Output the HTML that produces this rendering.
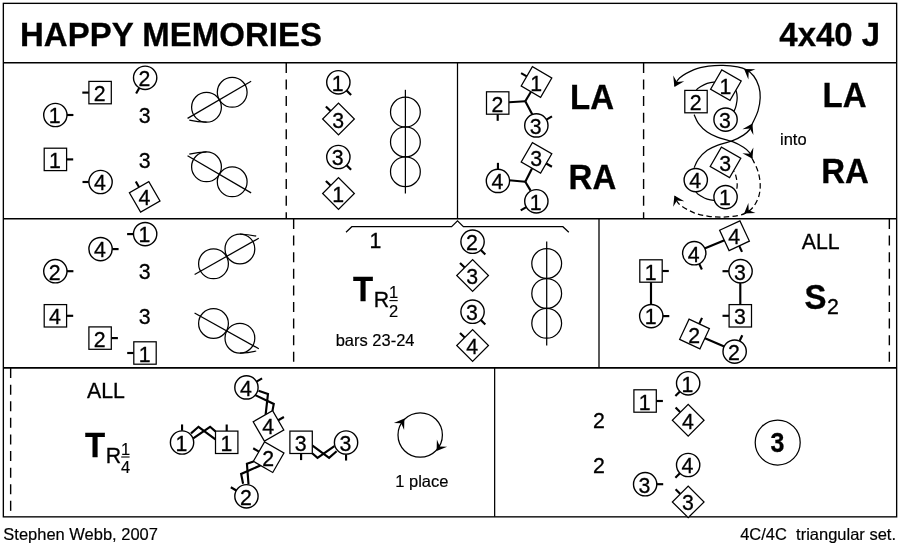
<!DOCTYPE html>
<html><head><meta charset="utf-8"><title>Happy Memories</title>
<style>html,body{margin:0;padding:0;background:#fff}svg{display:block;will-change:transform}</style></head>
<body><svg width="900" height="550" viewBox="0 0 900 550" font-family="Liberation Sans, sans-serif" fill="#000" stroke="#000" stroke-linecap="butt">
<rect x="0" y="0" width="900" height="550" fill="#fff" stroke="none"/>
<g>
<rect x="3.35" y="3.35" width="893.3" height="513.5" fill="none" stroke-width="1.35"/>
<line x1="3.35" y1="62.70" x2="896.65" y2="62.70" stroke-width="1.55" />
<line x1="3.35" y1="218.80" x2="896.65" y2="218.80" stroke-width="1.55" />
<line x1="3.35" y1="367.85" x2="896.65" y2="367.85" stroke-width="1.55" />
<line x1="457.50" y1="62.70" x2="457.50" y2="218.80" stroke-width="1.25" />
<line x1="599.00" y1="218.80" x2="599.00" y2="367.85" stroke-width="1.3" />
<line x1="494.65" y1="367.85" x2="494.65" y2="516.85" stroke-width="1.25" />
<line x1="286.25" y1="62.90" x2="286.25" y2="218.8" stroke-width="1.4" stroke-dasharray="10 6.6"/>
<line x1="643.6" y1="62.90" x2="643.6" y2="218.8" stroke-width="1.4" stroke-dasharray="10 6.6"/>
<line x1="293.65" y1="219.00" x2="293.65" y2="367.85" stroke-width="1.4" stroke-dasharray="10 6.6"/>
<line x1="889.35" y1="219.00" x2="889.35" y2="367.85" stroke-width="1.4" stroke-dasharray="10 6.6"/>
<line x1="10.65" y1="368.05" x2="10.65" y2="516.85" stroke-width="1.4" stroke-dasharray="10 6.6"/>
<text stroke="#000" transform="translate(20.00 46.10) scale(1 1.035)" font-size="33" stroke-width="0.3" text-anchor="start" font-weight="bold" >HAPPY MEMORIES</text>
<text stroke="#000" transform="translate(880.20 46.00) scale(1 1.035)" font-size="33" stroke-width="0.3" text-anchor="end" font-weight="bold" >4x40 J</text>
<text stroke="#000" transform="translate(3.30 540.00) scale(1 1.05)" font-size="16.5" stroke-width="0.18" text-anchor="start" >Stephen Webb, 2007</text>
<text stroke="#000" transform="translate(896.00 540.00) scale(1 1.05)" font-size="16.5" stroke-width="0.18" text-anchor="end" >4C/4C&#160; triangular set.</text>
<line x1="67.00" y1="115.00" x2="73.40" y2="115.00" stroke-width="2.15" />
<circle cx="55.35" cy="115.00" r="11.65" fill="#fff" stroke-width="1.4"/>
<text stroke="#000" transform="translate(54.70 123.35) scale(1 1.05)" font-size="21.3" stroke-width="0.3" text-anchor="middle" >1</text>
<line x1="88.90" y1="92.60" x2="82.30" y2="92.60" stroke-width="2.15" />
<rect x="88.90" y="81.40" width="22.4" height="22.4" fill="#fff" stroke-width="1.25" transform="rotate(0 100.10 92.60)"/>
<text stroke="#000" transform="translate(99.70 101.10) scale(1 1.05)" font-size="21.3" stroke-width="0.3" text-anchor="middle" >2</text>
<line x1="139.33" y1="87.89" x2="136.12" y2="93.43" stroke-width="2.15" />
<circle cx="145.15" cy="77.80" r="11.65" fill="#fff" stroke-width="1.4"/>
<text stroke="#000" transform="translate(144.50 86.15) scale(1 1.05)" font-size="21.3" stroke-width="0.3" text-anchor="middle" >2</text>
<text stroke="#000" transform="translate(144.60 122.70) scale(1 1.05)" font-size="21.3" stroke-width="0.3" text-anchor="middle" >3</text>
<line x1="66.60" y1="159.40" x2="73.20" y2="159.40" stroke-width="2.15" />
<rect x="44.20" y="148.20" width="22.4" height="22.4" fill="#fff" stroke-width="1.25" transform="rotate(0 55.40 159.40)"/>
<text stroke="#000" transform="translate(55.00 167.90) scale(1 1.05)" font-size="21.3" stroke-width="0.3" text-anchor="middle" >1</text>
<line x1="88.90" y1="182.00" x2="82.50" y2="182.00" stroke-width="2.15" />
<circle cx="100.55" cy="182.00" r="11.65" fill="#fff" stroke-width="1.4"/>
<text stroke="#000" transform="translate(99.90 190.35) scale(1 1.05)" font-size="21.3" stroke-width="0.3" text-anchor="middle" >4</text>
<text stroke="#000" transform="translate(144.60 167.60) scale(1 1.05)" font-size="21.3" stroke-width="0.3" text-anchor="middle" >3</text>
<line x1="139.10" y1="187.20" x2="135.80" y2="181.48" stroke-width="2.15" />
<rect x="133.50" y="185.70" width="22.4" height="22.4" fill="#fff" stroke-width="1.25" transform="rotate(60 144.70 196.90)"/>
<text stroke="#000" transform="translate(144.30 205.40) scale(1 1.05)" font-size="21.3" stroke-width="0.3" text-anchor="middle" >4</text>
<circle cx="206.50" cy="107.30" r="14.9" fill="none" stroke-width="1.25"/>
<circle cx="232.20" cy="92.30" r="14.9" fill="none" stroke-width="1.25"/>
<line x1="187.57" y1="118.35" x2="251.13" y2="81.25" stroke-width="1.25" />
<path d="M206.5,122.2 Q198,122 189.3,120.2" fill="none" stroke-width="1.25" />
<circle cx="206.50" cy="166.80" r="14.9" fill="none" stroke-width="1.25"/>
<circle cx="232.20" cy="181.80" r="14.9" fill="none" stroke-width="1.25"/>
<line x1="187.57" y1="155.75" x2="251.13" y2="192.85" stroke-width="1.25" />
<path d="M206.5,151.9 Q198,152.1 189.3,154.2" fill="none" stroke-width="1.25" />
<line x1="346.59" y1="90.54" x2="351.11" y2="95.06" stroke-width="2.15" />
<circle cx="338.35" cy="82.30" r="11.65" fill="#fff" stroke-width="1.4"/>
<text stroke="#000" transform="translate(337.70 90.65) scale(1 1.05)" font-size="21.3" stroke-width="0.3" text-anchor="middle" >1</text>
<line x1="330.58" y1="111.08" x2="325.91" y2="106.41" stroke-width="2.15" />
<rect x="327.30" y="107.80" width="22.4" height="22.4" fill="#fff" stroke-width="1.25" transform="rotate(45 338.50 119.00)"/>
<text stroke="#000" transform="translate(338.10 127.50) scale(1 1.05)" font-size="21.3" stroke-width="0.3" text-anchor="middle" >3</text>
<line x1="346.59" y1="165.24" x2="351.11" y2="169.76" stroke-width="2.15" />
<circle cx="338.35" cy="157.00" r="11.65" fill="#fff" stroke-width="1.4"/>
<text stroke="#000" transform="translate(337.70 165.35) scale(1 1.05)" font-size="21.3" stroke-width="0.3" text-anchor="middle" >3</text>
<line x1="330.58" y1="185.58" x2="325.91" y2="180.91" stroke-width="2.15" />
<rect x="327.30" y="182.30" width="22.4" height="22.4" fill="#fff" stroke-width="1.25" transform="rotate(45 338.50 193.50)"/>
<text stroke="#000" transform="translate(338.10 202.00) scale(1 1.05)" font-size="21.3" stroke-width="0.3" text-anchor="middle" >1</text>
<circle cx="405.40" cy="112.10" r="14.9" fill="none" stroke-width="1.25"/>
<circle cx="405.40" cy="141.90" r="14.9" fill="none" stroke-width="1.25"/>
<circle cx="405.40" cy="171.70" r="14.9" fill="none" stroke-width="1.25"/>
<line x1="405.40" y1="89.80" x2="405.40" y2="193.50" stroke-width="1.25" />
<line x1="509.00" y1="102.20" x2="525.30" y2="101.20" stroke-width="2.15" />
<line x1="525.30" y1="101.20" x2="531.00" y2="91.80" stroke-width="2.15" />
<line x1="525.30" y1="101.20" x2="532.20" y2="114.20" stroke-width="2.15" />
<line x1="497.70" y1="114.20" x2="497.70" y2="120.80" stroke-width="2.15" />
<rect x="486.50" y="91.80" width="22.4" height="22.4" fill="#fff" stroke-width="1.25" transform="rotate(0 497.70 103.00)"/>
<text stroke="#000" transform="translate(497.30 111.50) scale(1 1.05)" font-size="21.3" stroke-width="0.3" text-anchor="middle" >2</text>
<line x1="526.80" y1="76.40" x2="521.08" y2="73.10" stroke-width="2.15" />
<rect x="525.30" y="70.80" width="22.4" height="22.4" fill="#fff" stroke-width="1.25" transform="rotate(30 536.50 82.00)"/>
<text stroke="#000" transform="translate(536.10 90.50) scale(1 1.05)" font-size="21.3" stroke-width="0.3" text-anchor="middle" >1</text>
<line x1="546.44" y1="119.58" x2="551.98" y2="116.38" stroke-width="2.15" />
<circle cx="536.35" cy="125.40" r="11.65" fill="#fff" stroke-width="1.4"/>
<text stroke="#000" transform="translate(535.70 133.75) scale(1 1.05)" font-size="21.3" stroke-width="0.3" text-anchor="middle" >3</text>
<text stroke="#000" transform="translate(570.00 109.20) scale(1 1.075)" font-size="33" stroke-width="0.3" text-anchor="start" font-weight="bold" >LA</text>
<line x1="509.00" y1="180.20" x2="525.30" y2="181.80" stroke-width="2.15" />
<line x1="525.30" y1="181.80" x2="532.00" y2="168.60" stroke-width="2.15" />
<line x1="525.30" y1="181.80" x2="530.60" y2="190.60" stroke-width="2.15" />
<line x1="497.95" y1="169.25" x2="497.95" y2="162.85" stroke-width="2.15" />
<circle cx="497.95" cy="180.90" r="11.65" fill="#fff" stroke-width="1.4"/>
<text stroke="#000" transform="translate(497.30 189.25) scale(1 1.05)" font-size="21.3" stroke-width="0.3" text-anchor="middle" >4</text>
<line x1="546.20" y1="163.50" x2="551.92" y2="166.80" stroke-width="2.15" />
<rect x="525.30" y="146.70" width="22.4" height="22.4" fill="#fff" stroke-width="1.25" transform="rotate(30 536.50 157.90)"/>
<text stroke="#000" transform="translate(536.10 166.40) scale(1 1.05)" font-size="21.3" stroke-width="0.3" text-anchor="middle" >3</text>
<line x1="526.26" y1="207.12" x2="520.72" y2="210.32" stroke-width="2.15" />
<circle cx="536.35" cy="201.30" r="11.65" fill="#fff" stroke-width="1.4"/>
<text stroke="#000" transform="translate(535.70 209.65) scale(1 1.05)" font-size="21.3" stroke-width="0.3" text-anchor="middle" >1</text>
<text stroke="#000" transform="translate(568.60 188.80) scale(1 1.075)" font-size="33" stroke-width="0.3" text-anchor="start" font-weight="bold" >RA</text>
<path d="M694.10,167.80 C694.82,166.35 696.22,162.02 698.40,159.10 C700.58,156.18 704.05,152.60 707.20,150.30 C710.35,148.00 713.07,146.90 717.30,145.30 C721.53,143.70 728.23,142.40 732.60,140.70 C736.97,139.00 740.72,136.88 743.50,135.10 C746.28,133.32 747.85,131.85 749.30,130.00 C750.75,128.15 750.75,127.18 752.20,124.00 C753.65,120.82 756.67,115.27 758.00,110.90 C759.33,106.53 760.07,101.92 760.20,97.80 C760.33,93.68 759.88,89.83 758.80,86.20 C757.72,82.57 755.77,78.75 753.70,76.00 C751.63,73.25 749.07,71.23 746.40,69.70 C743.73,68.17 741.58,67.53 737.70,66.80 C733.82,66.07 727.95,65.42 723.10,65.30 C718.25,65.18 713.43,65.38 708.60,66.10 C703.77,66.82 698.95,67.62 694.10,69.60 C689.25,71.58 682.72,75.27 679.50,78.00 C676.28,80.73 675.58,84.67 674.80,86.00" fill="none" stroke-width="1.25" />
<path d="M694.10,114.60 C694.82,116.05 696.22,120.38 698.40,123.30 C700.58,126.22 704.05,129.80 707.20,132.10 C710.35,134.40 713.07,135.50 717.30,137.10 C721.53,138.70 728.23,140.00 732.60,141.70 C736.97,143.40 740.72,145.52 743.50,147.30 C746.28,149.08 747.85,150.55 749.30,152.40 C750.75,154.25 751.72,157.40 752.20,158.40" fill="none" stroke-width="1.25" />
<path d="M752.20,158.40 C753.17,160.58 756.67,167.13 758.00,171.50 C759.33,175.87 760.07,180.48 760.20,184.60 C760.33,188.72 759.88,192.57 758.80,196.20 C757.72,199.83 755.77,203.65 753.70,206.40 C751.63,209.15 749.07,211.17 746.40,212.70 C743.73,214.23 741.58,214.87 737.70,215.60 C733.82,216.33 727.95,216.98 723.10,217.10 C718.25,217.22 713.43,217.02 708.60,216.30 C703.77,215.58 698.95,214.78 694.10,212.80 C689.25,210.82 682.72,207.13 679.50,204.40 C676.28,201.67 675.58,197.73 674.80,196.40" fill="none" stroke-width="1.25" stroke-dasharray="5.5 3.2"/>
<path d="M696.00,98.00 C696.05,96.70 695.42,92.17 696.30,90.20 C697.18,88.23 699.48,87.35 701.30,86.20 C703.12,85.05 705.13,83.98 707.20,83.30 C709.27,82.62 711.23,82.23 713.70,82.10 C716.17,81.97 720.62,82.43 722.00,82.50" fill="none" stroke-width="1.25" />
<path d="M733.00,86.00 C733.53,86.88 735.50,89.33 736.20,91.30 C736.90,93.27 737.20,95.50 737.20,97.80 C737.20,100.10 736.65,103.05 736.20,105.10 C735.75,107.15 735.53,108.28 734.50,110.10 C733.47,111.92 730.75,115.02 730.00,116.00" fill="none" stroke-width="1.25" />
<path d="M696.00,184.40 C696.05,185.70 695.42,190.23 696.30,192.20 C697.18,194.17 699.48,195.05 701.30,196.20 C703.12,197.35 705.13,198.42 707.20,199.10 C709.27,199.78 711.23,200.17 713.70,200.30 C716.17,200.43 720.62,199.97 722.00,199.90" fill="none" stroke-width="1.25" />
<path d="M733.00,196.40 C733.53,195.52 735.50,193.07 736.20,191.10 C736.90,189.13 737.20,186.90 737.20,184.60 C737.20,182.30 736.65,179.35 736.20,177.30 C735.75,175.25 735.53,174.12 734.50,172.30 C733.47,170.48 730.75,167.38 730.00,166.40" fill="none" stroke-width="1.25" stroke-dasharray="5.5 3.2"/>
<path d="M752.40,123.60 L742.43,129.13 L749.77,128.54 L753.39,134.96 Z" fill="#000" stroke="none"/>
<path d="M744.10,68.90 L748.37,79.47 L748.69,72.11 L755.49,69.30 Z" fill="#000" stroke="none"/>
<path d="M674.40,86.90 L684.27,81.20 L676.94,81.91 L673.21,75.56 Z" fill="#000" stroke="none"/>
<path d="M752.40,158.80 L753.39,147.44 L749.77,153.86 L742.43,153.27 Z" fill="#000" stroke="none"/>
<path d="M744.10,213.50 L755.49,213.10 L748.69,210.29 L748.37,202.93 Z" fill="#000" stroke="none"/>
<path d="M674.40,195.50 L673.21,206.84 L676.94,200.49 L684.27,201.20 Z" fill="#000" stroke="none"/>
<rect x="684.80" y="90.40" width="22.4" height="22.4" fill="#fff" stroke-width="1.25" transform="rotate(0 696.00 101.60)"/>
<text stroke="#000" transform="translate(695.60 110.10) scale(1 1.05)" font-size="21.3" stroke-width="0.3" text-anchor="middle" >2</text>
<rect x="714.70" y="73.90" width="22.4" height="22.4" fill="#fff" stroke-width="1.25" transform="rotate(30 725.90 85.10)"/>
<text stroke="#000" transform="translate(725.50 93.60) scale(1 1.05)" font-size="21.3" stroke-width="0.3" text-anchor="middle" >1</text>
<circle cx="725.55" cy="119.60" r="11.65" fill="#fff" stroke-width="1.4"/>
<text stroke="#000" transform="translate(724.90 127.95) scale(1 1.05)" font-size="21.3" stroke-width="0.3" text-anchor="middle" >3</text>
<circle cx="695.75" cy="180.10" r="11.65" fill="#fff" stroke-width="1.4"/>
<text stroke="#000" transform="translate(695.10 188.45) scale(1 1.05)" font-size="21.3" stroke-width="0.3" text-anchor="middle" >4</text>
<rect x="714.30" y="151.20" width="22.4" height="22.4" fill="#fff" stroke-width="1.25" transform="rotate(30 725.50 162.40)"/>
<text stroke="#000" transform="translate(725.10 170.90) scale(1 1.05)" font-size="21.3" stroke-width="0.3" text-anchor="middle" >3</text>
<circle cx="725.55" cy="197.10" r="11.65" fill="#fff" stroke-width="1.4"/>
<text stroke="#000" transform="translate(724.90 205.45) scale(1 1.05)" font-size="21.3" stroke-width="0.3" text-anchor="middle" >1</text>
<text stroke="#000" transform="translate(780.00 144.80) scale(1 1.05)" font-size="16.5" stroke-width="0.18" text-anchor="start" >into</text>
<text stroke="#000" transform="translate(822.60 107.40) scale(1 1.075)" font-size="33" stroke-width="0.3" text-anchor="start" font-weight="bold" >LA</text>
<text stroke="#000" transform="translate(821.20 182.60) scale(1 1.075)" font-size="33" stroke-width="0.3" text-anchor="start" font-weight="bold" >RA</text>
<line x1="133.50" y1="234.10" x2="127.10" y2="234.10" stroke-width="2.15" />
<circle cx="145.15" cy="234.10" r="11.65" fill="#fff" stroke-width="1.4"/>
<text stroke="#000" transform="translate(144.50 242.45) scale(1 1.05)" font-size="21.3" stroke-width="0.3" text-anchor="middle" >1</text>
<line x1="112.20" y1="249.10" x2="118.60" y2="249.10" stroke-width="2.15" />
<circle cx="100.55" cy="249.10" r="11.65" fill="#fff" stroke-width="1.4"/>
<text stroke="#000" transform="translate(99.90 257.45) scale(1 1.05)" font-size="21.3" stroke-width="0.3" text-anchor="middle" >4</text>
<line x1="67.00" y1="271.20" x2="73.40" y2="271.20" stroke-width="2.15" />
<circle cx="55.35" cy="271.20" r="11.65" fill="#fff" stroke-width="1.4"/>
<text stroke="#000" transform="translate(54.70 279.55) scale(1 1.05)" font-size="21.3" stroke-width="0.3" text-anchor="middle" >2</text>
<text stroke="#000" transform="translate(144.60 279.00) scale(1 1.05)" font-size="21.3" stroke-width="0.3" text-anchor="middle" >3</text>
<text stroke="#000" transform="translate(144.60 324.00) scale(1 1.05)" font-size="21.3" stroke-width="0.3" text-anchor="middle" >3</text>
<line x1="66.60" y1="315.80" x2="73.20" y2="315.80" stroke-width="2.15" />
<rect x="44.20" y="304.60" width="22.4" height="22.4" fill="#fff" stroke-width="1.25" transform="rotate(0 55.40 315.80)"/>
<text stroke="#000" transform="translate(55.00 324.30) scale(1 1.05)" font-size="21.3" stroke-width="0.3" text-anchor="middle" >4</text>
<line x1="111.30" y1="338.10" x2="117.90" y2="338.10" stroke-width="2.15" />
<rect x="88.90" y="326.90" width="22.4" height="22.4" fill="#fff" stroke-width="1.25" transform="rotate(0 100.10 338.10)"/>
<text stroke="#000" transform="translate(99.70 346.60) scale(1 1.05)" font-size="21.3" stroke-width="0.3" text-anchor="middle" >2</text>
<line x1="133.80" y1="353.00" x2="127.20" y2="353.00" stroke-width="2.15" />
<rect x="133.80" y="341.80" width="22.4" height="22.4" fill="#fff" stroke-width="1.25" transform="rotate(0 145.00 353.00)"/>
<text stroke="#000" transform="translate(144.60 361.50) scale(1 1.05)" font-size="21.3" stroke-width="0.3" text-anchor="middle" >1</text>
<circle cx="213.50" cy="263.80" r="14.9" fill="none" stroke-width="1.25"/>
<circle cx="239.90" cy="248.90" r="14.9" fill="none" stroke-width="1.25"/>
<line x1="194.65" y1="274.44" x2="258.75" y2="238.26" stroke-width="1.25" />
<path d="M239.9,234 Q248,234.3 256.2,236.2" fill="none" stroke-width="1.25" />
<circle cx="213.50" cy="323.50" r="14.9" fill="none" stroke-width="1.25"/>
<circle cx="239.90" cy="338.20" r="14.9" fill="none" stroke-width="1.25"/>
<line x1="194.55" y1="312.95" x2="258.85" y2="348.75" stroke-width="1.25" />
<path d="M239.9,353.1 Q248,352.9 256.2,351" fill="none" stroke-width="1.25" />
<path d="M346,232.2 L351.8,226.7 L451.6,226.7 L457.5,220.9 L463.4,226.7 L562.9,226.7 L568.8,232.2" fill="none" stroke-width="1.25" />
<text stroke="#000" transform="translate(375.30 248.40) scale(1 1.05)" font-size="21.3" stroke-width="0.3" text-anchor="middle" >1</text>
<text stroke="#000" transform="translate(353.00 300.90) scale(1 1.075)" font-size="33" stroke-width="0.3" text-anchor="start" font-weight="bold" >T</text>
<text stroke="#000" transform="translate(373.80 306.50) scale(1 1.05)" font-size="21.3" stroke-width="0.3" text-anchor="start" >R</text>
<text stroke="#000" transform="translate(393.60 298.40) scale(1 1.05)" font-size="16.5" stroke-width="0.18" text-anchor="middle" >1</text>
<line x1="389.30" y1="300.60" x2="397.70" y2="300.60" stroke-width="1.1" />
<text stroke="#000" transform="translate(393.60 316.60) scale(1 1.05)" font-size="16.5" stroke-width="0.18" text-anchor="middle" >2</text>
<text stroke="#000" transform="translate(375.10 345.60) scale(1 1.05)" font-size="16.5" stroke-width="0.18" text-anchor="middle" >bars 23-24</text>
<line x1="480.79" y1="249.94" x2="485.31" y2="254.46" stroke-width="2.15" />
<circle cx="472.55" cy="241.70" r="11.65" fill="#fff" stroke-width="1.4"/>
<text stroke="#000" transform="translate(471.90 250.05) scale(1 1.05)" font-size="21.3" stroke-width="0.3" text-anchor="middle" >2</text>
<line x1="464.68" y1="267.58" x2="460.01" y2="262.91" stroke-width="2.15" />
<rect x="461.40" y="264.30" width="22.4" height="22.4" fill="#fff" stroke-width="1.25" transform="rotate(45 472.60 275.50)"/>
<text stroke="#000" transform="translate(472.20 284.00) scale(1 1.05)" font-size="21.3" stroke-width="0.3" text-anchor="middle" >3</text>
<line x1="480.79" y1="319.94" x2="485.31" y2="324.46" stroke-width="2.15" />
<circle cx="472.55" cy="311.70" r="11.65" fill="#fff" stroke-width="1.4"/>
<text stroke="#000" transform="translate(471.90 320.05) scale(1 1.05)" font-size="21.3" stroke-width="0.3" text-anchor="middle" >3</text>
<line x1="464.68" y1="337.58" x2="460.01" y2="332.91" stroke-width="2.15" />
<rect x="461.40" y="334.30" width="22.4" height="22.4" fill="#fff" stroke-width="1.25" transform="rotate(45 472.60 345.50)"/>
<text stroke="#000" transform="translate(472.20 354.00) scale(1 1.05)" font-size="21.3" stroke-width="0.3" text-anchor="middle" >4</text>
<circle cx="546.70" cy="263.50" r="14.9" fill="none" stroke-width="1.25"/>
<circle cx="546.70" cy="293.40" r="14.9" fill="none" stroke-width="1.25"/>
<circle cx="546.70" cy="323.30" r="14.9" fill="none" stroke-width="1.25"/>
<line x1="546.70" y1="241.40" x2="546.70" y2="345.50" stroke-width="1.25" />
<line x1="651.00" y1="282.00" x2="651.00" y2="305.00" stroke-width="2.15" />
<line x1="740.30" y1="282.00" x2="740.30" y2="305.00" stroke-width="2.15" />
<line x1="704.50" y1="248.60" x2="724.50" y2="240.20" stroke-width="2.15" />
<line x1="705.00" y1="338.30" x2="724.20" y2="346.40" stroke-width="2.15" />
<line x1="662.20" y1="271.00" x2="668.80" y2="271.00" stroke-width="2.15" />
<rect x="639.80" y="259.80" width="22.4" height="22.4" fill="#fff" stroke-width="1.25" transform="rotate(0 651.00 271.00)"/>
<text stroke="#000" transform="translate(650.60 279.50) scale(1 1.05)" font-size="21.3" stroke-width="0.3" text-anchor="middle" >1</text>
<line x1="662.90" y1="316.10" x2="669.30" y2="316.10" stroke-width="2.15" />
<circle cx="651.25" cy="316.10" r="11.65" fill="#fff" stroke-width="1.4"/>
<text stroke="#000" transform="translate(650.60 324.45) scale(1 1.05)" font-size="21.3" stroke-width="0.3" text-anchor="middle" >1</text>
<line x1="699.17" y1="263.76" x2="701.88" y2="269.56" stroke-width="2.15" />
<circle cx="694.25" cy="253.20" r="11.65" fill="#fff" stroke-width="1.4"/>
<text stroke="#000" transform="translate(693.60 261.55) scale(1 1.05)" font-size="21.3" stroke-width="0.3" text-anchor="middle" >4</text>
<line x1="739.23" y1="245.85" x2="742.02" y2="251.83" stroke-width="2.15" />
<rect x="723.30" y="224.50" width="22.4" height="22.4" fill="#fff" stroke-width="1.25" transform="rotate(-25 734.50 235.70)"/>
<text stroke="#000" transform="translate(734.10 244.20) scale(1 1.05)" font-size="21.3" stroke-width="0.3" text-anchor="middle" >4</text>
<line x1="728.90" y1="271.20" x2="722.50" y2="271.20" stroke-width="2.15" />
<circle cx="740.55" cy="271.20" r="11.65" fill="#fff" stroke-width="1.4"/>
<text stroke="#000" transform="translate(739.90 279.55) scale(1 1.05)" font-size="21.3" stroke-width="0.3" text-anchor="middle" >3</text>
<line x1="729.10" y1="315.80" x2="722.50" y2="315.80" stroke-width="2.15" />
<rect x="729.10" y="304.60" width="22.4" height="22.4" fill="#fff" stroke-width="1.25" transform="rotate(0 740.30 315.80)"/>
<text stroke="#000" transform="translate(739.90 324.30) scale(1 1.05)" font-size="21.3" stroke-width="0.3" text-anchor="middle" >3</text>
<line x1="699.23" y1="323.85" x2="702.02" y2="317.87" stroke-width="2.15" />
<rect x="683.30" y="322.80" width="22.4" height="22.4" fill="#fff" stroke-width="1.25" transform="rotate(25 694.50 334.00)"/>
<text stroke="#000" transform="translate(694.10 342.50) scale(1 1.05)" font-size="21.3" stroke-width="0.3" text-anchor="middle" >2</text>
<line x1="739.57" y1="341.04" x2="742.28" y2="335.24" stroke-width="2.15" />
<circle cx="734.65" cy="351.60" r="11.65" fill="#fff" stroke-width="1.4"/>
<text stroke="#000" transform="translate(734.00 359.95) scale(1 1.05)" font-size="21.3" stroke-width="0.3" text-anchor="middle" >2</text>
<text stroke="#000" transform="translate(820.70 248.60) scale(1 1.05)" font-size="21.3" stroke-width="0.3" text-anchor="middle" >ALL</text>
<text stroke="#000" transform="translate(804.60 308.60) scale(1 1.075)" font-size="33" stroke-width="0.3" text-anchor="start" font-weight="bold" >S</text>
<text stroke="#000" transform="translate(827.00 314.30) scale(1 1.05)" font-size="21.3" stroke-width="0.3" text-anchor="start" >2</text>
<text stroke="#000" transform="translate(106.00 397.60) scale(1 1.05)" font-size="21.3" stroke-width="0.3" text-anchor="middle" >ALL</text>
<text stroke="#000" transform="translate(84.90 457.30) scale(1 1.075)" font-size="33" stroke-width="0.3" text-anchor="start" font-weight="bold" >T</text>
<text stroke="#000" transform="translate(105.70 462.90) scale(1 1.05)" font-size="21.3" stroke-width="0.3" text-anchor="start" >R</text>
<text stroke="#000" transform="translate(125.50 454.80) scale(1 1.05)" font-size="16.5" stroke-width="0.18" text-anchor="middle" >1</text>
<line x1="121.20" y1="457.00" x2="129.60" y2="457.00" stroke-width="1.1" />
<text stroke="#000" transform="translate(125.50 473.00) scale(1 1.05)" font-size="16.5" stroke-width="0.18" text-anchor="middle" >4</text>
<polyline points="191.00,433.40 198.50,426.80 215.40,439.30" fill="none" stroke-width="2.15" stroke-linejoin="miter"/>
<polyline points="193.20,438.40 210.10,426.80 215.40,431.40" fill="none" stroke-width="2.15" stroke-linejoin="miter"/>
<line x1="182.05" y1="430.85" x2="182.05" y2="424.45" stroke-width="2.15" />
<circle cx="182.05" cy="442.50" r="11.65" fill="#fff" stroke-width="1.4"/>
<text stroke="#000" transform="translate(181.40 450.85) scale(1 1.05)" font-size="21.3" stroke-width="0.3" text-anchor="middle" >1</text>
<line x1="226.70" y1="431.10" x2="226.70" y2="424.50" stroke-width="2.15" />
<rect x="215.50" y="431.10" width="22.4" height="22.4" fill="#fff" stroke-width="1.25" transform="rotate(0 226.70 442.30)"/>
<text stroke="#000" transform="translate(226.30 450.80) scale(1 1.05)" font-size="21.3" stroke-width="0.3" text-anchor="middle" >1</text>
<polyline points="258.51,390.72 267.97,393.91 265.60,414.80" fill="none" stroke-width="2.15" stroke-linejoin="miter"/>
<polyline points="255.28,395.12 273.77,403.96 272.44,410.85" fill="none" stroke-width="2.15" stroke-linejoin="miter"/>
<line x1="256.54" y1="381.57" x2="262.08" y2="378.38" stroke-width="2.15" />
<circle cx="246.45" cy="387.40" r="11.65" fill="#fff" stroke-width="1.4"/>
<text stroke="#000" transform="translate(245.80 395.75) scale(1 1.05)" font-size="21.3" stroke-width="0.3" text-anchor="middle" >4</text>
<line x1="278.20" y1="420.30" x2="283.92" y2="417.00" stroke-width="2.15" />
<rect x="257.30" y="414.70" width="22.4" height="22.4" fill="#fff" stroke-width="1.25" transform="rotate(60 268.50 425.90)"/>
<text stroke="#000" transform="translate(268.10 434.40) scale(1 1.05)" font-size="21.3" stroke-width="0.3" text-anchor="middle" >4</text>
<polyline points="243.09,483.68 241.13,473.89 260.40,465.50" fill="none" stroke-width="2.15" stroke-linejoin="miter"/>
<polyline points="248.52,484.28 246.93,463.84 253.56,461.55" fill="none" stroke-width="2.15" stroke-linejoin="miter"/>
<line x1="236.36" y1="490.48" x2="230.82" y2="487.28" stroke-width="2.15" />
<circle cx="246.45" cy="496.30" r="11.65" fill="#fff" stroke-width="1.4"/>
<text stroke="#000" transform="translate(245.80 504.65) scale(1 1.05)" font-size="21.3" stroke-width="0.3" text-anchor="middle" >2</text>
<line x1="258.95" y1="451.60" x2="253.23" y2="448.30" stroke-width="2.15" />
<rect x="257.45" y="446.00" width="22.4" height="22.4" fill="#fff" stroke-width="1.25" transform="rotate(-60 268.65 457.20)"/>
<text stroke="#000" transform="translate(268.25 465.70) scale(1 1.05)" font-size="21.3" stroke-width="0.3" text-anchor="middle" >2</text>
<polyline points="336.60,451.20 329.10,457.80 312.20,445.30" fill="none" stroke-width="2.15" stroke-linejoin="miter"/>
<polyline points="334.40,446.20 317.50,457.80 312.20,453.20" fill="none" stroke-width="2.15" stroke-linejoin="miter"/>
<line x1="346.05" y1="454.15" x2="346.05" y2="460.55" stroke-width="2.15" />
<circle cx="346.05" cy="442.50" r="11.65" fill="#fff" stroke-width="1.4"/>
<text stroke="#000" transform="translate(345.40 450.85) scale(1 1.05)" font-size="21.3" stroke-width="0.3" text-anchor="middle" >3</text>
<line x1="301.10" y1="453.50" x2="301.10" y2="460.10" stroke-width="2.15" />
<rect x="289.90" y="431.10" width="22.4" height="22.4" fill="#fff" stroke-width="1.25" transform="rotate(180 301.10 442.30)"/>
<text stroke="#000" transform="translate(300.70 450.80) scale(1 1.05)" font-size="21.3" stroke-width="0.3" text-anchor="middle" >3</text>
<circle cx="420.20" cy="435.00" r="22.2" fill="none" stroke-width="1.25"/>
<path d="M404.40,418.60 L393.87,422.96 L401.23,423.22 L404.10,430.00 Z" fill="#000" stroke="none"/>
<path d="M436.60,451.00 L447.13,446.64 L439.77,446.38 L436.90,439.60 Z" fill="#000" stroke="none"/>
<text stroke="#000" transform="translate(421.80 487.00) scale(1 1.05)" font-size="16.5" stroke-width="0.18" text-anchor="middle" >1 place</text>
<text stroke="#000" transform="translate(598.80 428.20) scale(1 1.05)" font-size="21.3" stroke-width="0.3" text-anchor="middle" >2</text>
<text stroke="#000" transform="translate(598.80 473.10) scale(1 1.05)" font-size="21.3" stroke-width="0.3" text-anchor="middle" >2</text>
<line x1="656.30" y1="401.00" x2="662.90" y2="401.00" stroke-width="2.15" />
<rect x="633.90" y="389.80" width="22.4" height="22.4" fill="#fff" stroke-width="1.25" transform="rotate(0 645.10 401.00)"/>
<text stroke="#000" transform="translate(644.70 409.50) scale(1 1.05)" font-size="21.3" stroke-width="0.3" text-anchor="middle" >1</text>
<line x1="679.91" y1="391.54" x2="675.39" y2="396.06" stroke-width="2.15" />
<circle cx="688.15" cy="383.30" r="11.65" fill="#fff" stroke-width="1.4"/>
<text stroke="#000" transform="translate(687.50 391.65) scale(1 1.05)" font-size="21.3" stroke-width="0.3" text-anchor="middle" >1</text>
<line x1="680.28" y1="412.28" x2="675.61" y2="407.61" stroke-width="2.15" />
<rect x="677.00" y="409.00" width="22.4" height="22.4" fill="#fff" stroke-width="1.25" transform="rotate(45 688.20 420.20)"/>
<text stroke="#000" transform="translate(687.80 428.70) scale(1 1.05)" font-size="21.3" stroke-width="0.3" text-anchor="middle" >4</text>
<line x1="656.80" y1="484.20" x2="663.20" y2="484.20" stroke-width="2.15" />
<circle cx="645.15" cy="484.20" r="11.65" fill="#fff" stroke-width="1.4"/>
<text stroke="#000" transform="translate(644.50 492.55) scale(1 1.05)" font-size="21.3" stroke-width="0.3" text-anchor="middle" >3</text>
<line x1="679.91" y1="473.24" x2="675.39" y2="477.76" stroke-width="2.15" />
<circle cx="688.15" cy="465.00" r="11.65" fill="#fff" stroke-width="1.4"/>
<text stroke="#000" transform="translate(687.50 473.35) scale(1 1.05)" font-size="21.3" stroke-width="0.3" text-anchor="middle" >4</text>
<line x1="680.28" y1="493.98" x2="675.61" y2="489.31" stroke-width="2.15" />
<rect x="677.00" y="490.70" width="22.4" height="22.4" fill="#fff" stroke-width="1.25" transform="rotate(45 688.20 501.90)"/>
<text stroke="#000" transform="translate(687.80 510.40) scale(1 1.05)" font-size="21.3" stroke-width="0.3" text-anchor="middle" >3</text>
<circle cx="777.70" cy="442.50" r="22.5" fill="none" stroke-width="1.25"/>
<text stroke="#000" transform="translate(777.50 452.00) scale(1 1.075)" font-size="25" stroke-width="0.3" text-anchor="middle" font-weight="bold" >3</text>
</g></svg></body></html>
